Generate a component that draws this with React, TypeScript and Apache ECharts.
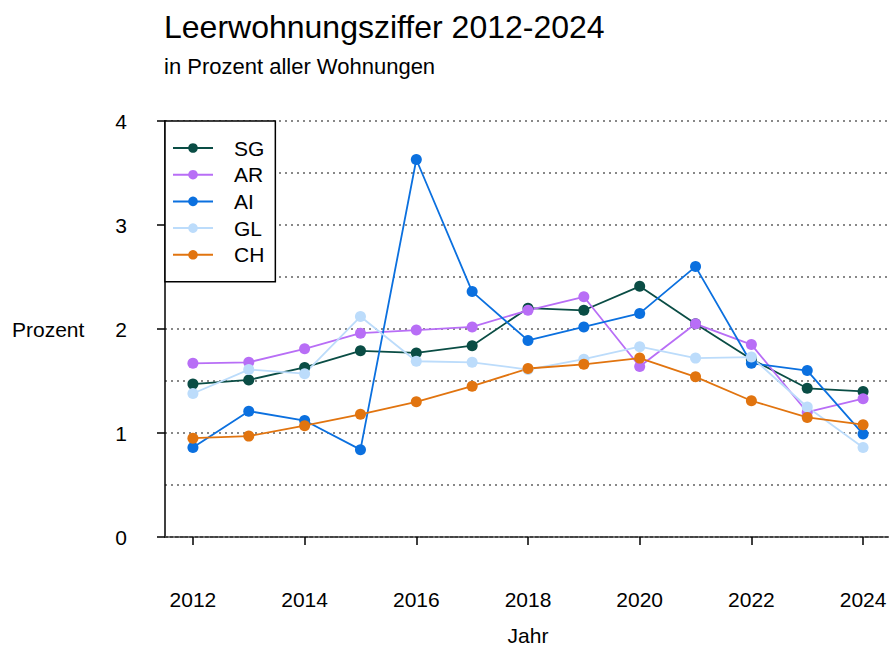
import React, { useEffect, useRef } from "react";
import * as echarts from "echarts";

const years = ["2012", "2013", "2014", "2015", "2016", "2017", "2018", "2019", "2020", "2021", "2022", "2023", "2024"];
const sgValues = [1.47, 1.51, 1.63, 1.79, 1.77, 1.84, 2.2, 2.18, 2.41, 2.05, 1.71, 1.43, 1.4];
const arValues = [1.67, 1.68, 1.81, 1.96, 1.99, 2.02, 2.18, 2.31, 1.64, 2.05, 1.85, 1.2, 1.33];
const aiValues = [0.86, 1.21, 1.12, 0.84, 3.63, 2.36, 1.89, 2.02, 2.15, 2.6, 1.67, 1.6, 0.99];
const glValues = [1.38, 1.61, 1.57, 2.12, 1.69, 1.68, 1.61, 1.71, 1.83, 1.72, 1.73, 1.25, 0.86];
const chValues = [0.95, 0.97, 1.07, 1.18, 1.3, 1.45, 1.62, 1.66, 1.72, 1.54, 1.31, 1.15, 1.08];

const seriesNames = ["SG", "AR", "AI", "GL", "CH"];
const seriesColors = ["#0a4d45", "#b86ef6", "#0b70df", "#bcdcfb", "#e1740f"];
const seriesData = [sgValues, arValues, aiValues, glValues, chValues];

const FONT = "Liberation Sans, Arial, sans-serif";

export default function App() {
  const ref = useRef<HTMLDivElement>(null);
  useEffect(() => {
    if (!ref.current) return;
    const chart = echarts.init(ref.current, null, { renderer: "svg" });
    chart.setOption({
      animation: false,
      backgroundColor: "#ffffff",
      textStyle: { fontFamily: FONT, color: "#000" },
      title: {
        text: "Leerwohnungsziffer 2012-2024",
        subtext: "in Prozent aller Wohnungen",
        left: 164,
        top: 11,
        padding: 0,
        itemGap: 12,
        textStyle: { fontSize: 32, fontWeight: "normal", color: "#000", fontFamily: FONT, lineHeight: 32 },
        subtextStyle: { fontSize: 22, color: "#000", fontFamily: FONT, lineHeight: 22 },
      },
      legend: {
        left: 165,
        top: 121,
        orient: "vertical",
        data: seriesNames,
        itemWidth: 40,
        itemHeight: 12,
        itemGap: 5.7,
        padding: [16.5, 11, 16.5, 7],
        borderColor: "#000",
        borderWidth: 1.5,
        borderRadius: 0,
        backgroundColor: "#fff",
        textStyle: { fontSize: 21, lineHeight: 21, color: "#000", fontFamily: FONT, padding: [0, 0, 0, 16] },
      },
      grid: { left: 165, top: 121, width: 726, height: 416, containLabel: false, outerBoundsMode: "none" },
      graphic: [
        {
          type: "text",
          left: 12,
          top: 319,
          style: { text: "Prozent", fontSize: 21, fill: "#000", fontFamily: FONT },
        },
      ],
      xAxis: {
        type: "category",
        data: years,
        boundaryGap: true,
        name: "Jahr",
        nameLocation: "middle",
        nameGap: 88,
        nameTextStyle: { fontSize: 21, lineHeight: 21, color: "#000", fontFamily: FONT },
        axisLine: { show: true, lineStyle: { color: "#444", width: 2, type: [3, 2] } },
        axisTick: { show: true, alignWithLabel: true, interval: 1, length: 8, lineStyle: { color: "#000", width: 1.5 } },
        axisLabel: { interval: 1, margin: 52, fontSize: 21, color: "#000", fontFamily: FONT },
        splitLine: { show: false },
      },
      yAxis: [
        {
          type: "value",
          min: 0,
          max: 4,
          interval: 1,
          axisLine: { show: true, lineStyle: { color: "#000", width: 1.5 } },
          axisTick: { show: true, length: 8, lineStyle: { color: "#000", width: 1.5 } },
          axisLabel: { margin: 38, fontSize: 21, color: "#000", fontFamily: FONT },
          splitLine: { show: false },
        },
        {
          type: "value",
          min: 0,
          max: 4,
          interval: 0.5,
          position: "left",
          axisLine: { show: false },
          axisTick: { show: false },
          axisLabel: { show: false },
          splitLine: { show: true, lineStyle: { color: "#888", width: 2, type: [2, 4] } },
        },
      ],
      series: seriesNames.map((name, i) => ({
        name,
        type: "line",
        data: seriesData[i],
        yAxisIndex: 0,
        color: seriesColors[i],
        symbol: "circle",
        symbolSize: 11,
        showSymbol: true,
        lineStyle: { width: 1.8, color: seriesColors[i] },
        itemStyle: { color: seriesColors[i] },
      })),
    });
    return () => chart.dispose();
  }, []);
  return (
    <div style={{ position: "absolute", left: 0, top: 0, width: 889, height: 647, overflow: "hidden" }}>
      <div ref={ref} style={{ width: 889, height: 647 }} />
    </div>
  );
}
